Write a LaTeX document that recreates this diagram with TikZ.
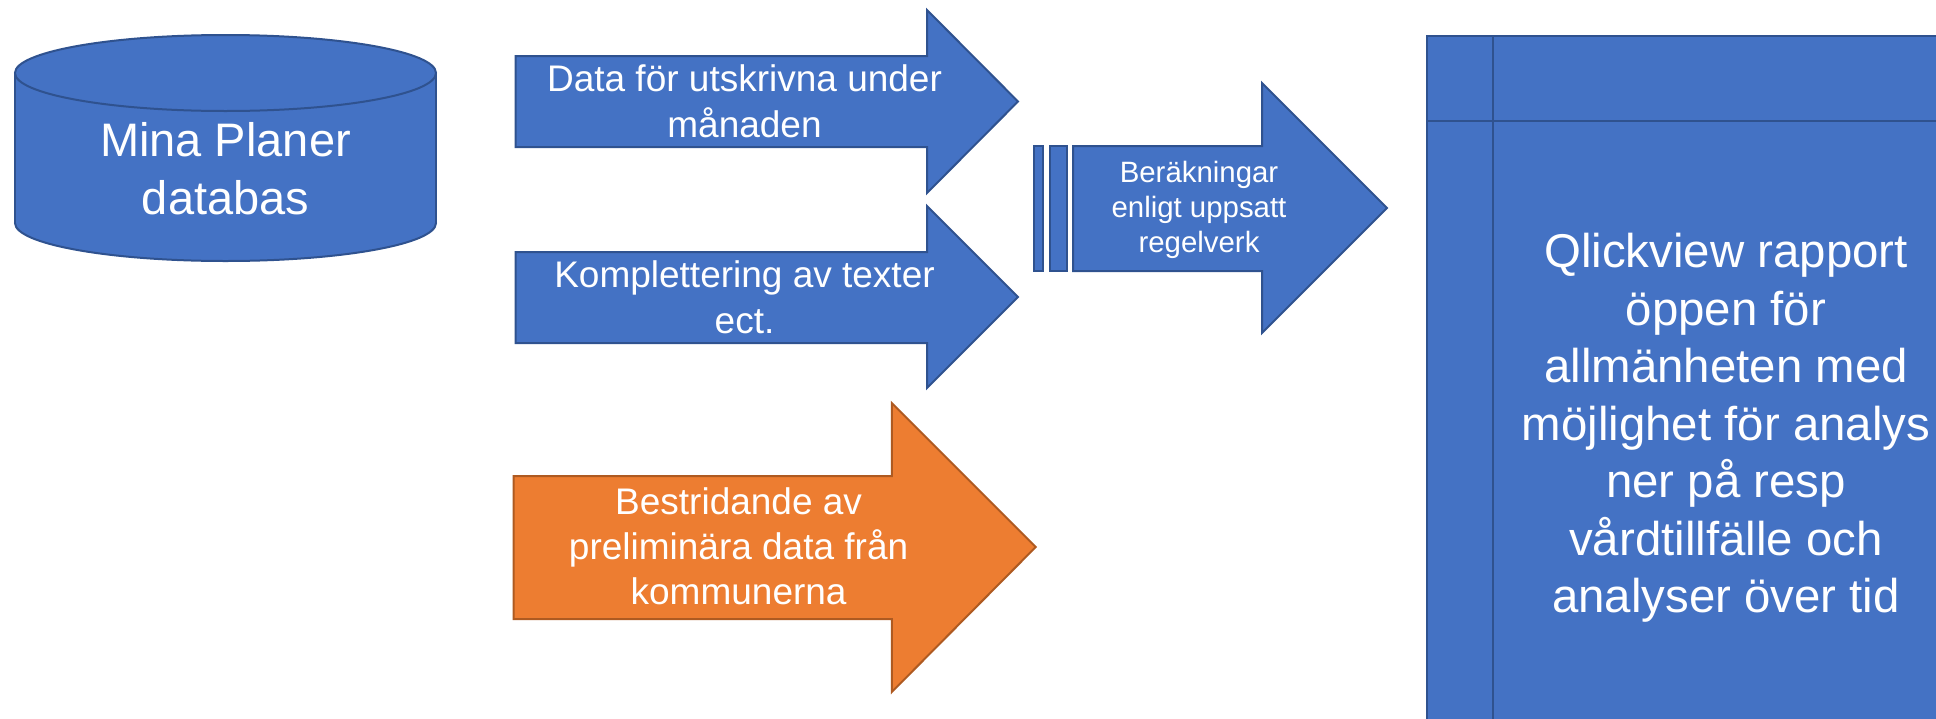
\documentclass[tikz,border=0pt]{standalone}
\usepackage{fontspec}
\setmainfont{Liberation Sans}
\definecolor{bfill}{HTML}{4472C4}
\definecolor{bline}{HTML}{2F528F}
\definecolor{ofill}{HTML}{ED7D31}
\definecolor{oline}{HTML}{AE5A21}
\begin{document}
\begin{tikzpicture}[x=0.5pt,y=-0.5pt,
  bshape/.style={fill=bfill,draw=bline,line width=1pt,line join=miter},
  oshape/.style={fill=ofill,draw=oline,line width=1pt,line join=miter},
  lbl/.style={text=white,align=center,inner sep=0pt},
  arrowtxt/.style={lbl,font=\fontsize{18.5pt}{23pt}\selectfont},
  bigtxt/.style={lbl,font=\fontsize{23.5pt}{29pt}\selectfont},
  qtxt/.style={lbl,font=\fontsize{23.7pt}{28.75pt}\selectfont},
  smalltxt/.style={lbl,font=\fontsize{14.7pt}{17.5pt}\selectfont}]
\useasboundingbox (0,0) rectangle (1936,718);
\clip (0,0) rectangle (1936,718);
% cylinder
\draw[bshape] (225.5,223) ellipse [x radius=210.5, y radius=38];
\fill[bfill] (15,73) rectangle (436,223);
\draw[bline,line width=1pt] (15,73) -- (15,223) (436,73) -- (436,223);
\draw[bshape] (225.5,73) ellipse [x radius=210.5, y radius=38];
\node[bigtxt] (db) at (225.5,169) {Mina Planer\\databas};
% arrow 1
\draw[bshape] (515.5,56) -- (927,56) -- (927,10) -- (1018,101.5) -- (927,193) -- (927,147) -- (515.5,147) -- cycle;
\node[arrowtxt] (a1) at (744.5,101.5) {Data för utskrivna under\\månaden};
% arrow 2
\draw[bshape] (515.5,252) -- (927,252) -- (927,206) -- (1018,297) -- (927,388) -- (927,343) -- (515.5,343) -- cycle;
\node[arrowtxt] (a2) at (744.5,297.5) {Komplettering av texter\\ect.};
% striped arrow
\draw[bshape] (1034,146) rectangle (1043,271);
\draw[bshape] (1050,146) rectangle (1067,271);
\draw[bshape] (1073,146) -- (1262,146) -- (1262,83) -- (1387,208) -- (1262,333) -- (1262,271) -- (1073,271) -- cycle;
\node[smalltxt] (calc) at (1199,210) {Beräkningar\\enligt uppsatt\\regelverk};
% orange arrow
\draw[oshape] (513.6,476) -- (891.8,476) -- (891.8,403) -- (1035.7,547) -- (891.8,692) -- (891.8,619) -- (513.6,619) -- cycle;
\node[arrowtxt,font=\fontsize{18.5pt}{22.5pt}\selectfont] (a3) at (738.6,546.5) {Bestridande av\\preliminära data från\\kommunerna};
% report box
\draw[bshape] (1427,36) rectangle (1960,740);
\draw[bline,line width=1pt] (1493,36) -- (1493,740) (1427,121) -- (1960,121);
\node[qtxt] (rep) at (1726,428) {Qlickview rapport\\öppen för\\allmänheten med\\möjlighet för analys\\ner på resp\\vårdtillfälle och\\analyser över tid};
\end{tikzpicture}
\end{document}
